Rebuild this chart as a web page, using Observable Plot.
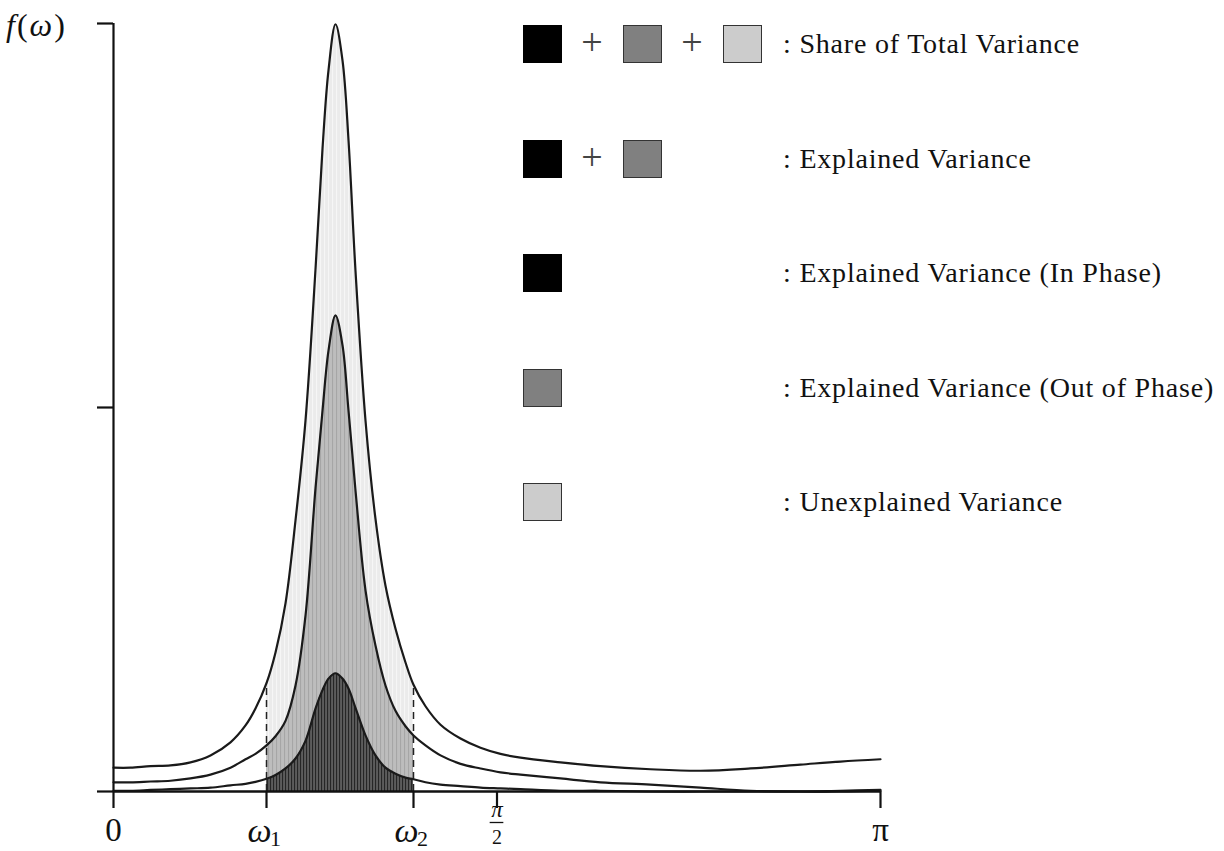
<!DOCTYPE html>
<html>
<head>
<meta charset="utf-8">
<script src="https://cdn.jsdelivr.net/npm/d3@7"></script>
<script src="https://cdn.jsdelivr.net/npm/@observablehq/plot@0.6"></script>
<style>
  body { margin: 0; background: #fff; }
  #wrap { position: relative; width: 1224px; height: 851px; font-family: "Liberation Serif", serif; color: #111; }
  #wrap svg g[aria-label="x-axis tick"] path,
  #wrap svg g[aria-label="y-axis tick"] path { stroke-width: 2.2; stroke: #111; }
  .sw { position: absolute; width: 39px; height: 38px; box-sizing: border-box; border: 1px solid #333; }
  .plus { position: absolute; width: 40px; text-align: center; font-size: 38px; line-height: 38px; color: #444; }
  .lab { position: absolute; font-size: 28px; letter-spacing: 0.8px; line-height: 38px; white-space: nowrap; color: #111; }
  #ylab { position: absolute; left: 6px; top: 5px; font-size: 32px; line-height: 40px; letter-spacing: 2px; }
</style>
</head>
<body>
<div id="wrap"></div>
<script>
// ---------- data ----------
const omega1 = 0.6267;
const omega2 = 1.2288;

const omega = [0, 0.0696, 0.1516, 0.2335, 0.3154, 0.3973, 0.4792, 0.5407, 0.5816, 0.6267,
  0.6636, 0.7045, 0.7455, 0.7864, 0.8274, 0.8561, 0.8806, 0.9093, 0.9380, 0.9626,
  0.9912, 1.0322, 1.0731, 1.1141, 1.1551, 1.1960, 1.2288, 1.2779, 1.3394, 1.4213,
  1.5032, 1.5851, 1.6671, 1.8309, 1.9947, 2.1995, 2.4043, 2.6091, 2.8139, 2.9778, 3.1416];

const totalVariance = [0.31, 0.31, 0.33, 0.34, 0.38, 0.47, 0.64, 0.86, 1.08, 1.41,
  1.81, 2.45, 3.53, 4.83, 6.80, 8.37, 9.39, 9.99, 9.52, 8.48,
  6.78, 4.83, 3.55, 2.68, 2.12, 1.68, 1.39, 1.11, 0.87, 0.69,
  0.57, 0.49, 0.44, 0.38, 0.33, 0.29, 0.27, 0.30, 0.35, 0.39, 0.42];

const explainedVariance = [0.12, 0.12, 0.13, 0.14, 0.17, 0.22, 0.31, 0.42, 0.49, 0.60,
  0.72, 0.92, 1.38, 2.29, 3.95, 4.96, 5.74, 6.20, 5.81, 4.96,
  3.92, 2.62, 1.90, 1.38, 1.05, 0.85, 0.73, 0.60, 0.47, 0.36,
  0.30, 0.25, 0.22, 0.17, 0.12, 0.09, 0.05, 0.01, 0.00, 0.01, 0.02];

const inPhaseVariance = [0.01, 0.01, 0.02, 0.03, 0.04, 0.05, 0.08, 0.10, 0.125, 0.165,
  0.215, 0.30, 0.43, 0.66, 1.08, 1.32, 1.47, 1.54, 1.47, 1.34,
  1.09, 0.73, 0.47, 0.31, 0.23, 0.18, 0.16, 0.12, 0.09, 0.07,
  0.05, 0.04, 0.03, 0.01, 0.01, 0.00, 0.00, 0.00, 0.00, 0.00, 0.01];

const xTickValues = [0, omega1, omega2, Math.PI / 2, Math.PI];
const yTickValues = [0, 5, 10];
const plainTicks = [{x: 0, t: "0"}, {x: Math.PI, t: "π"}];
const omegaTicks = [{x: omega1, t: "ω", s: "1"}, {x: omega2, t: "ω", s: "2"}];
const fractionTicks = [{x: Math.PI / 2, num: "π", den: "2"}];

const legendLabels = [": Share of Total Variance", ": Explained Variance",
  ": Explained Variance (In Phase)", ": Explained Variance (Out of Phase)", ": Unexplained Variance"];
const legendSwatches = [["#000000", "#808080", "#cccccc"], ["#000000", "#808080"], ["#000000"], ["#808080"], ["#cccccc"]];

// ---------- build ----------
const data = omega.map((w, i) => ({w, total: totalVariance[i], expl: explainedVariance[i], inph: inPhaseVariance[i]}));
const band = data.filter(d => d.w >= omega1 - 1e-9 && d.w <= omega2 + 1e-9);
const bounds = data.filter(d => d.w === omega1 || d.w === omega2);
const curve = "catmull-rom";
const ink = "#1a1a1a";
const barHalf = 0.028; // half-width of the fraction bar, in x units

const chart = Plot.plot({
  width: 1224, height: 851,
  marginLeft: 113, marginRight: 344, marginTop: 23, marginBottom: 60,
  x: {domain: [0, Math.PI], ticks: xTickValues, tickSize: 17, tickFormat: () => "", label: null},
  y: {domain: [0, 10], ticks: yTickValues, tickSize: 16, tickFormat: () => "", label: null},
  style: {fontFamily: "Liberation Serif, serif", background: "white", overflow: "visible", color: "#111"},
  marks: [
    Plot.areaY(band, {x: "w", y1: "expl", y2: "total", curve, fill: "url(#hatchLight)"}),
    Plot.areaY(band, {x: "w", y1: "inph", y2: "expl", curve, fill: "url(#hatchMid)"}),
    Plot.areaY(band, {x: "w", y1: 0, y2: "inph", curve, fill: "url(#hatchDark)"}),
    Plot.ruleX(bounds, {x: "w", y1: 0, y2: "total", stroke: "#222", strokeWidth: 1.5, strokeDasharray: "7,5"}),
    Plot.lineY(data, {x: "w", y: "total", curve, stroke: ink, strokeWidth: 2.2}),
    Plot.lineY(data, {x: "w", y: "expl", curve, stroke: ink, strokeWidth: 2.2}),
    Plot.lineY(data, {x: "w", y: "inph", curve, stroke: ink, strokeWidth: 2.2}),
    Plot.ruleY([0], {stroke: "#111", strokeWidth: 2.4}),
    Plot.ruleX([0], {y1: 0, y2: 10, stroke: "#111", strokeWidth: 2.2}),
    // tick labels
    Plot.text(plainTicks, {x: "x", text: "t", frameAnchor: "bottom", lineAnchor: "middle", dy: 39, fontSize: 33, fill: "#111"}),
    Plot.text(omegaTicks, {x: "x", text: "t", frameAnchor: "bottom", lineAnchor: "middle", dy: 40, dx: -7, fontSize: 34, fontStyle: "italic", fill: "#111"}),
    Plot.text(omegaTicks, {x: "x", text: "s", frameAnchor: "bottom", lineAnchor: "middle", dy: 47, dx: 9, fontSize: 22, fill: "#111"}),
    Plot.text(fractionTicks, {x: "x", text: "num", frameAnchor: "bottom", lineAnchor: "middle", dy: 18, fontSize: 23, fontStyle: "italic", fill: "#111"}),
    Plot.ruleY(fractionTicks, {x1: d => d.x - barHalf, x2: d => d.x + barHalf, y: () => 0, dy: 31, stroke: "#111", strokeWidth: 1.3}),
    Plot.text(fractionTicks, {x: "x", text: "den", frameAnchor: "bottom", lineAnchor: "middle", dy: 46, fontSize: 20, fill: "#111"})
  ]
});

// hatch patterns (style only)
(function addPatterns(svg) {
  const ns = "http://www.w3.org/2000/svg";
  const defs = document.createElementNS(ns, "defs");
  const specs = [["hatchLight", "#ebebeb", "#f6f6f6", 4], ["hatchMid", "#bdbdbd", "#a6a6a6", 4], ["hatchDark", "#5c5c5c", "#262626", 3]];
  for (const [id, bg, fg, w] of specs) {
    const p = document.createElementNS(ns, "pattern");
    p.setAttribute("id", id); p.setAttribute("width", w); p.setAttribute("height", 8);
    p.setAttribute("patternUnits", "userSpaceOnUse");
    const r = document.createElementNS(ns, "rect");
    r.setAttribute("width", w); r.setAttribute("height", 8); r.setAttribute("fill", bg);
    const l = document.createElementNS(ns, "line");
    l.setAttribute("x1", 0.5); l.setAttribute("x2", 0.5); l.setAttribute("y1", 0); l.setAttribute("y2", 8);
    l.setAttribute("stroke", fg); l.setAttribute("stroke-width", 1.2);
    p.appendChild(r); p.appendChild(l); defs.appendChild(p);
  }
  svg.insertBefore(defs, svg.firstChild);
})(chart);

const wrap = document.getElementById("wrap");
wrap.appendChild(chart);

// y label
const yl = document.createElement("div");
yl.id = "ylab";
yl.innerHTML = "<i>f</i>(<i>ω</i>)";
wrap.appendChild(yl);

// legend
legendLabels.forEach((label, r) => {
  const top = 25 + r * 114.5;
  legendSwatches[r].forEach((c, i) => {
    const s = document.createElement("div");
    s.className = "sw";
    s.style.left = (523 + i * 100) + "px";
    s.style.top = top + "px";
    s.style.background = c;
    if (c === "#000000") s.style.borderColor = "#000";
    wrap.appendChild(s);
    if (i > 0) {
      const p = document.createElement("div");
      p.className = "plus";
      p.textContent = "+";
      p.style.left = (572 + (i - 1) * 100) + "px";
      p.style.top = (top - 2) + "px";
      wrap.appendChild(p);
    }
  });
  const t = document.createElement("div");
  t.className = "lab";
  t.textContent = label;
  t.style.left = "783px";
  t.style.top = top + "px";
  wrap.appendChild(t);
});
</script>
</body>
</html>
